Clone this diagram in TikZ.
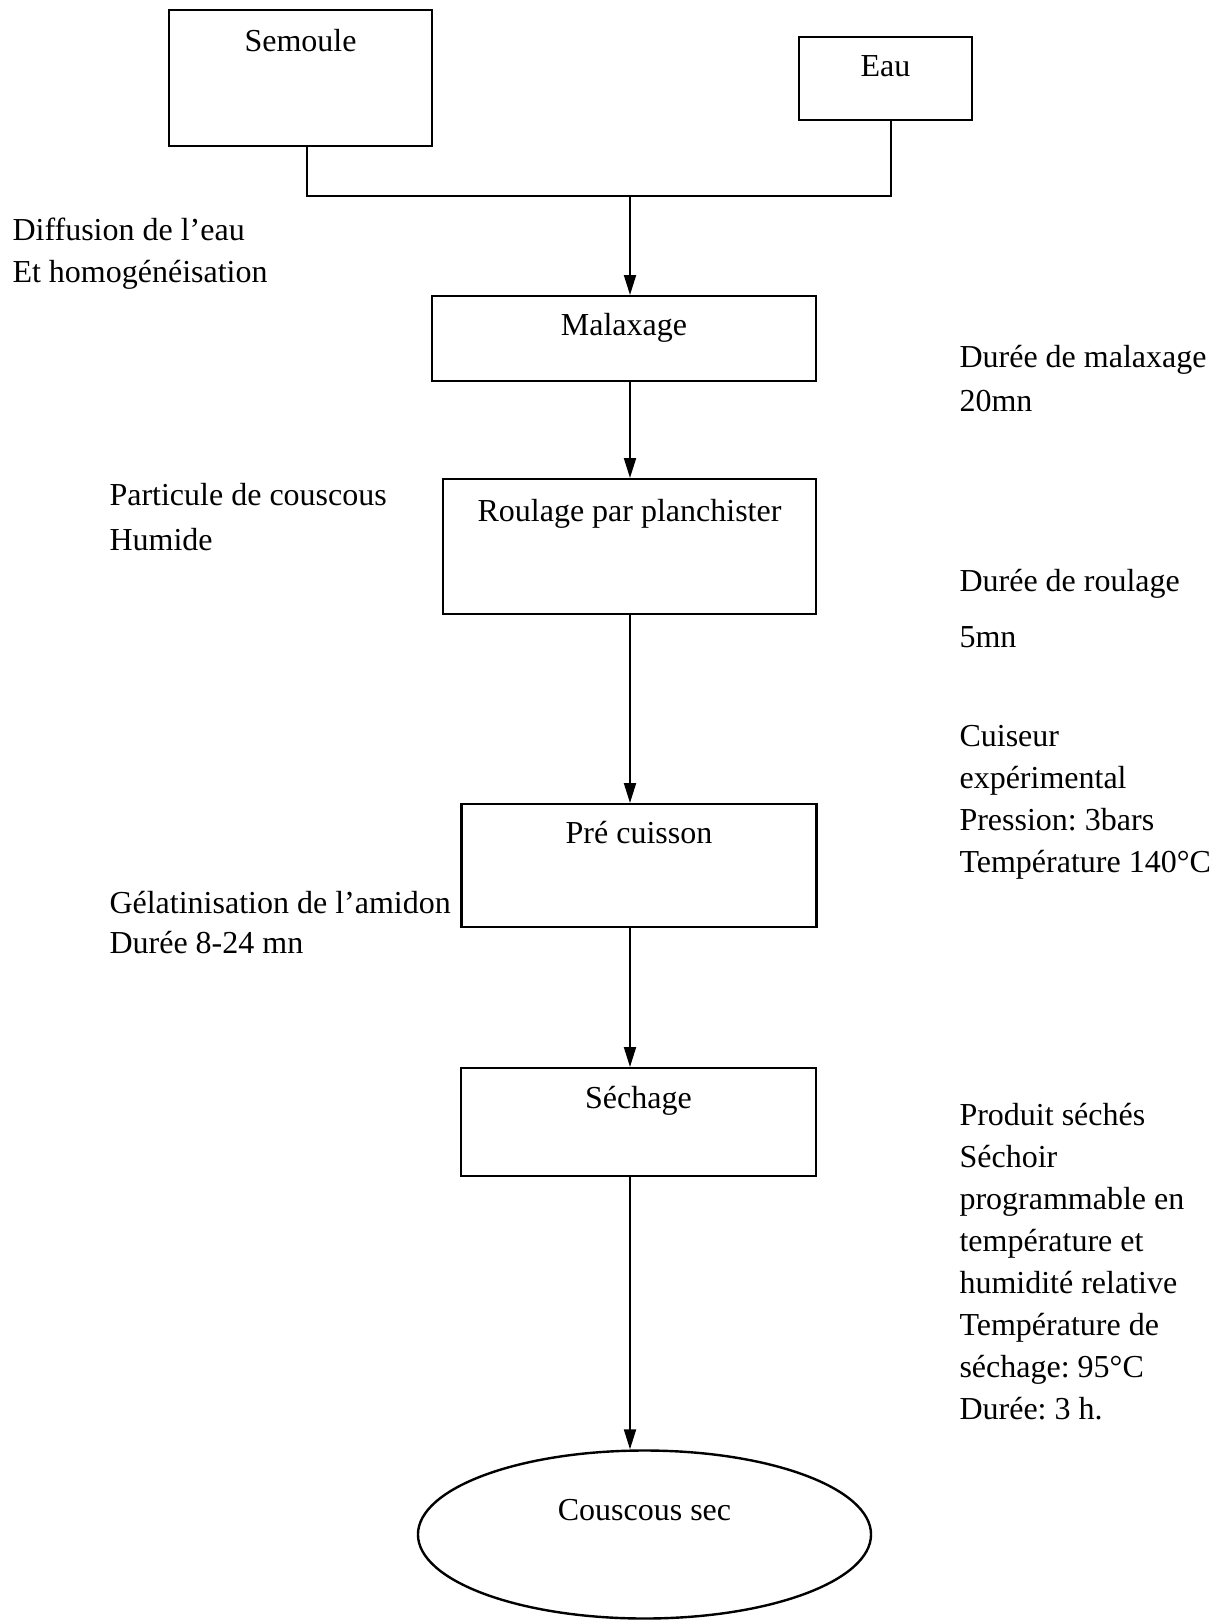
\documentclass[tikz,border=0pt]{standalone}
\usepackage{fontspec}
\setmainfont{Liberation Serif}
\frenchspacing
\usetikzlibrary{arrows.meta,shapes.geometric}

\tikzset{
  procbox/.style={draw,line width=0.9pt,inner sep=0pt,anchor=north},
  flow/.style={line width=0.75pt,-{Triangle[width=4.5pt,length=7.5pt]}},
  note/.style={anchor=base west,inner sep=0pt,align=left}
}

\begin{document}
\begin{tikzpicture}[x=0.375pt,y=-0.375pt,font=\fontsize{12}{15.75}\selectfont]
	% page frame
	\useasboundingbox (0,0) rectangle (1222,1620);
	% inputs
	\node[procbox,minimum width=98.6pt,text height=15.4pt,text depth=35.6pt] (semoule) at (300.5,9) {Semoule};
	\node[procbox,minimum width=64.9pt,text height=14.6pt,text depth=16.5pt] (eau) at (885.5,36) {Eau};
	% process steps
	\node[procbox,minimum width=144pt,text height=14.6pt,text depth=17.2pt] (malaxage) at (624,295) {Malaxage};
	\node[procbox,minimum width=139.9pt,text height=15.7pt,text depth=34.9pt] (roulage) at (629.5,478) {Roulage par planchister};
	\node[procbox,minimum width=133.1pt,text height=14.6pt,text depth=31.5pt] (precuisson) at (639,803) {Pré cuisson};
	\node[procbox,minimum width=133.1pt,text height=15pt,text depth=25.5pt] (sechage) at (638.5,1067) {Séchage};
	% end product
	\node[draw,ellipse,line width=0.9pt,minimum width=169.9pt,minimum height=63pt,text height=8pt,text depth=18.5pt] (couscous) at (644.5,1534.5) {Couscous sec};
	% joining the inputs
	\coordinate (join) at (630,196);
	\draw[line width=0.75pt] ([xshift=2.4pt]semoule.south) |- (join) -| ([xshift=2.1pt]eau.south);
	% flow arrows
	\draw[flow] (join) -- (join |- malaxage.north);
	\draw[flow] (join |- malaxage.south) -- (join |- roulage.north);
	\draw[flow] (join |- roulage.south) -- (join |- precuisson.north);
	\draw[flow] (join |- precuisson.south) -- (join |- sechage.north);
	\draw[flow] (join |- sechage.south) -- (couscous.north -| join);
	% notes on the left (placed by their last line)
	\node[note] (diffusion) at (12,282) {Diffusion de l’eau\\Et homogénéisation};
	\node[note] (particule) at (109,550) {Particule de couscous\\[1.1pt]Humide};
	\node[note] (gelat) at (109,953) {Gélatinisation de l’amidon\\[-0.75pt]Durée 8-24 mn};
	% notes on the right
	\node[note] (dureemal) at (959,411) {Durée de malaxage\\[0.75pt]20mn};
	\node[note] (dureeroul) at (959,647) {Durée de roulage\\[4.9pt]5mn};
	\node[note] (cuiseur) at (959,872) {Cuiseur\\expérimental\\Pression: 3bars\\Température 140°C};
	\node[note] (produit) at (959,1419) {Produit séchés\\Séchoir\\programmable en\\température et\\humidité relative\\Température de\\séchage: 95°C\\Durée: 3 h.};
\end{tikzpicture}
\end{document}
